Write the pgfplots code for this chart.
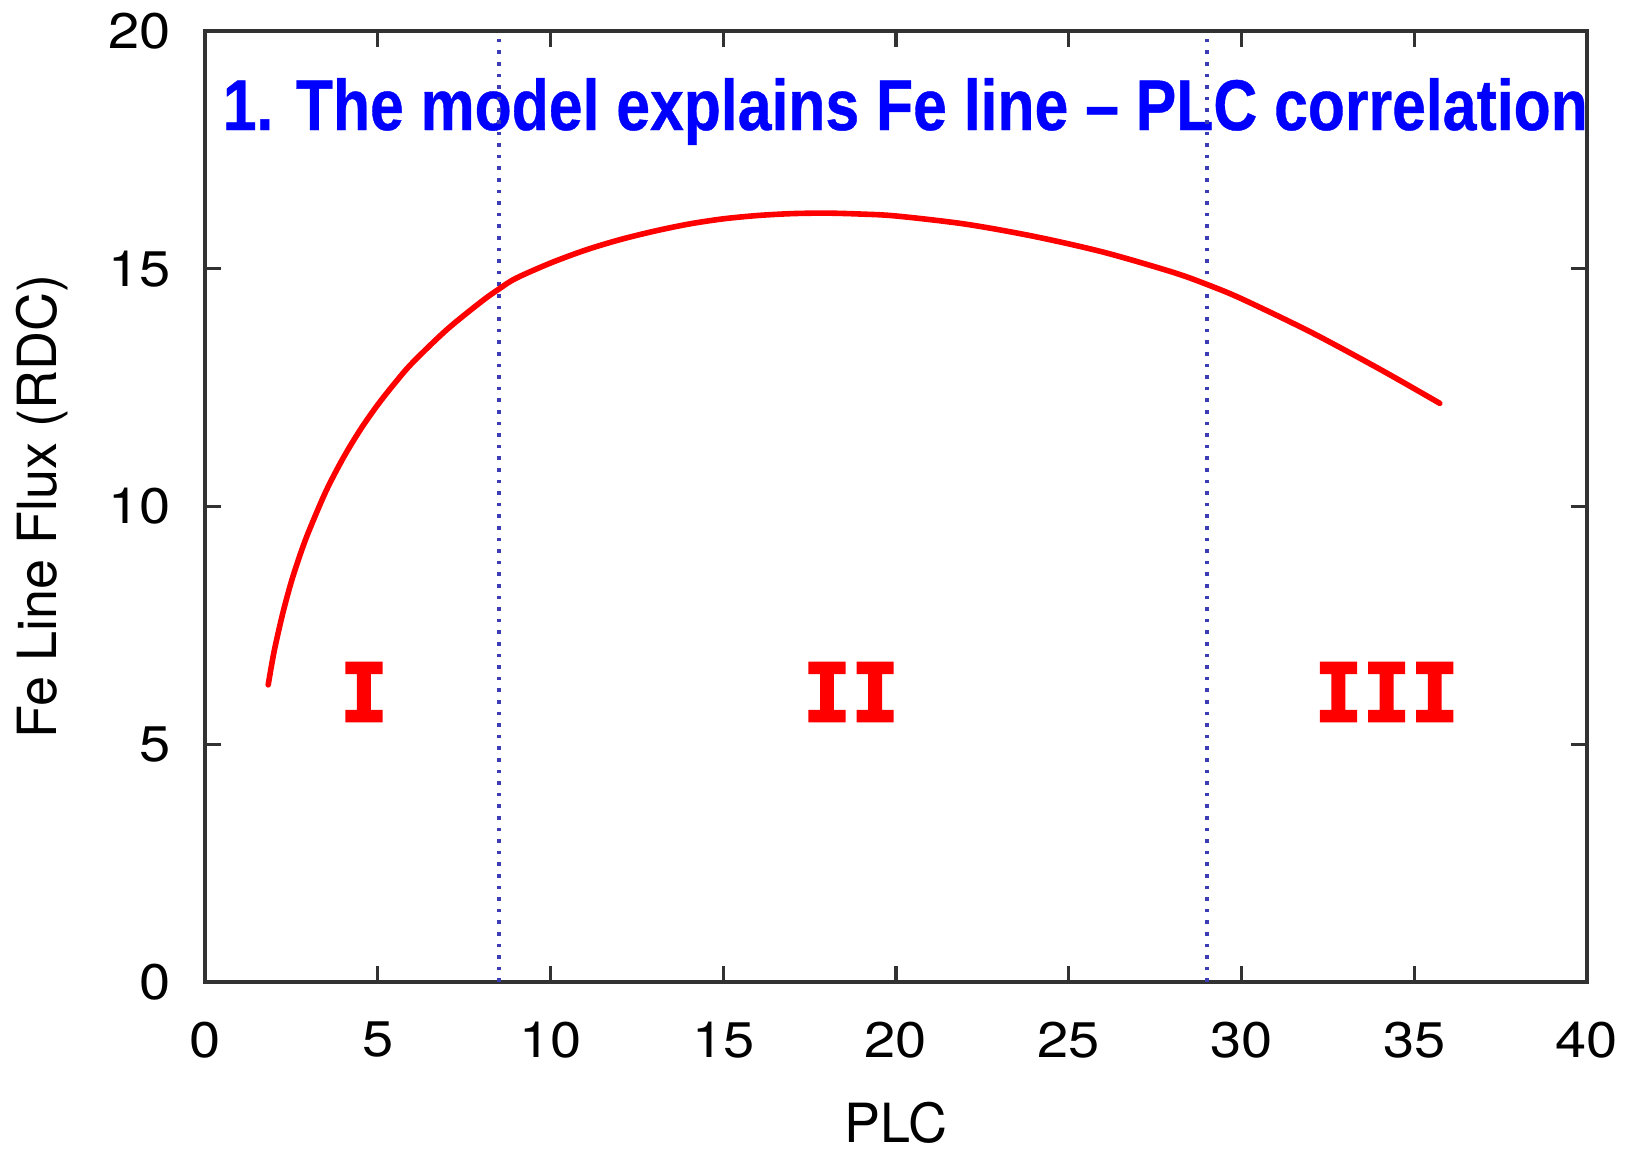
\documentclass[border=0pt]{standalone}
\usepackage{pgfplots}
\pgfplotsset{compat=1.18}
\usepackage{fontspec}
\setmainfont{TeX Gyre Heros}
\newfontfamily\titlefont[BoldFeatures={FakeBold=0.6}]{Liberation Sans}
\newfontfamily\romanfont[UprightFont={* Bold}, UprightFeatures={FakeBold=3}]{DejaVu Sans Mono}
\definecolor{dotblue}{RGB}{60,60,180}
\definecolor{axisgray}{RGB}{50,50,50}
\begin{document}
\begin{tikzpicture}
\begin{axis}[
  at={(0,0)}, anchor=south west,
  width=345.5pt, height=237.75pt, scale only axis,
  xmin=0, xmax=40, ymin=0, ymax=20,
  xtick={0,5,...,40}, ytick={0,5,...,20},
  tick align=inside,
  major tick length=4pt,
  axis line style={axisgray, line width=0.8pt},
  every tick/.style={axisgray, line width=0.8pt},
  /pgf/number format/assume math mode=true,
  ticklabel style={font=\fontsize{12.5}{14}\selectfont, text=black},
  xticklabel style={anchor=center, yshift=-14.5pt, xscale=1.12},
  yticklabel style={anchor=east, inner sep=0pt, xshift=-8.25pt, xscale=1.12},
  xlabel={PLC},
  ylabel={Fe Line Flux (RDC)},
  label style={font=\fontsize{13.5}{15}\selectfont},
  xlabel style={at={(axis description cs:0.5,-0.1483)}, anchor=center, inner sep=0pt},
  ylabel style={at={(axis description cs:-0.1179,0.5)}, anchor=center, inner sep=0pt},
  clip=false,
]
\node[anchor=base west, inner sep=0pt, text=blue, xshift=4.25pt, yshift=-24.75pt]
  at (rel axis cs:0,1)
  {\resizebox{341.25pt}{13pt}{\titlefont\bfseries 1. The model explains Fe line \textendash{} PLC correlation}};
\addplot[dotblue, line width=1.0pt, dash pattern=on 0.9pt off 2.0pt] coordinates {(8.5,0) (8.5,20)};
\addplot[dotblue, line width=1.0pt, dash pattern=on 0.9pt off 2.0pt] coordinates {(29,0) (29,20)};
\addplot[red, line width=1.4pt, smooth, line cap=round] coordinates {
  (1.83,6.25) (2.0,6.95) (2.25,7.75) (2.5,8.42) (2.75,8.98) (3.0,9.47)
  (3.5,10.32) (4.0,11.02) (4.5,11.62) (5.0,12.14) (5.5,12.60) (6.0,13.02)
  (7.0,13.72) (8.0,14.31) (8.5,14.57) (9.0,14.80) (10.0,15.12) (11.0,15.39)
  (12.0,15.61) (13.0,15.79) (14.0,15.94) (15.0,16.05) (16.0,16.12) (17.0,16.16)
  (18.0,16.17) (19.0,16.15) (20.0,16.11) (22.0,15.94) (24.0,15.68) (26.0,15.35)
  (28.0,14.93) (29.0,14.67) (30.0,14.37) (32.0,13.67) (34.0,12.89) (35.74,12.17)
};
\node[text=red, inner sep=0pt, anchor=center, font=\romanfont\fontsize{20}{22}\selectfont] at (axis cs:4.6,6.1) {I};
\node[text=red, inner sep=0pt, anchor=center, font=\romanfont\fontsize{20}{22}\selectfont] at (axis cs:18.7,6.1) {II};
\node[text=red, inner sep=0pt, anchor=center, font=\romanfont\fontsize{20}{22}\selectfont] at (axis cs:34.2,6.1) {III};
\end{axis}
\pgfresetboundingbox
\path (-51.25pt,-42pt) rectangle (356.5pt,245.5pt);
\end{tikzpicture}
\end{document}
